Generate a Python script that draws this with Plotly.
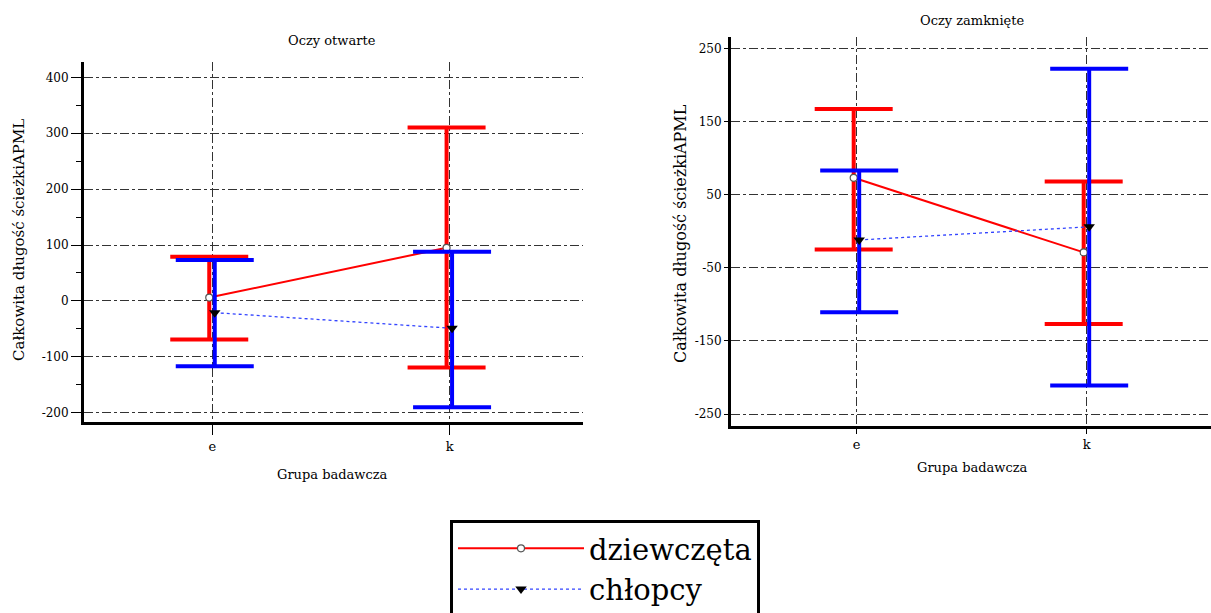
import numpy as np
import plotly.graph_objects as go

# ---------------- data ----------------
categories = ["e", "k"]
series_names = ["dziewczęta", "chłopcy"]

# Oczy otwarte (eyes open)
open_girls_mean = [6, 95]
open_girls_upper = [79, 310]
open_girls_lower = [-69, -119]
open_boys_mean = [-21, -49]
open_boys_upper = [73, 88]
open_boys_lower = [-117, -190]

# Oczy zamknięte (eyes closed)
closed_girls_mean = [73, -29]
closed_girls_upper = [167, 68]
closed_girls_lower = [-25, -127]
closed_boys_mean = [-12, 6]
closed_boys_upper = [83, 222]
closed_boys_lower = [-111, -211]

open_yticks = [-200, -100, 0, 100, 200, 300, 400]
closed_yticks = [-250, -150, -50, 50, 150, 250]

panel_titles = ["Oczy otwarte", "Oczy zamknięte"]
x_title = "Grupa badawcza"
y_title = "Całkowita długość ścieżkiAPML"

# ---------------- styling ----------------
W, H = 1211, 613
FONT = "DejaVu Serif"
RED = "#ff0000"
BLUE = "#0000ff"
GRID = "#333333"


def px_x(p):
    return p / W


def px_y(p):
    return 1 - p / H


fig = go.Figure()


def add_panel(xa, ya, gm, gu, gl, bm, bu, bl, unit_px, showlegend):
    base = np.arange(len(categories), dtype=float)
    red_off = -3.0 / unit_px
    blue_off = 2.5 / unit_px
    gm_a, gu_a, gl_a = map(np.array, (gm, gu, gl))
    bm_a, bu_a, bl_a = map(np.array, (bm, bu, bl))
    fig.add_trace(go.Scatter(
        x=base + red_off, y=gm_a, xaxis=xa, yaxis=ya,
        mode="lines+markers", name=series_names[0], legendgroup="g",
        showlegend=showlegend,
        line=dict(color=RED, width=2),
        marker=dict(symbol="circle", size=7, color="white",
                    line=dict(color="#555555", width=1.2)),
        error_y=dict(type="data", symmetric=False,
                     array=gu_a - gm_a, arrayminus=gm_a - gl_a,
                     color=RED, thickness=4, width=39),
    ))
    fig.add_trace(go.Scatter(
        x=base + blue_off, y=bm_a, xaxis=xa, yaxis=ya,
        mode="lines+markers", name=series_names[1], legendgroup="b",
        showlegend=showlegend,
        line=dict(color="#3344ff", width=1.3, dash="dot"),
        marker=dict(symbol="triangle-down", size=10, color="black"),
        error_y=dict(type="data", symmetric=False,
                     array=bu_a - bm_a, arrayminus=bm_a - bl_a,
                     color=BLUE, thickness=4, width=39),
    ))


add_panel("x", "y", open_girls_mean, open_girls_upper, open_girls_lower,
          open_boys_mean, open_boys_upper, open_boys_lower, 237.4, True)
add_panel("x2", "y2", closed_girls_mean, closed_girls_upper, closed_girls_lower,
          closed_boys_mean, closed_boys_upper, closed_boys_lower, 230.0, False)

common_x = dict(
    tickvals=list(range(len(categories))), ticktext=categories,
    showline=True, linecolor="black", linewidth=3,
    ticks="outside", ticklen=10, tickcolor="black", tickwidth=1,
    showgrid=True, gridcolor=GRID, gridwidth=1, griddash="dashdot",
    zeroline=False, tickfont=dict(family=FONT, size=13, color="black"),
)
common_y = dict(
    showline=True, linecolor="black", linewidth=3,
    ticks="outside", tickcolor="black", tickwidth=1,
    showgrid=True, gridcolor=GRID, gridwidth=1, griddash="dashdot",
    zeroline=False, tickfont=dict(family=FONT, size=12, color="black"),
)

fig.update_layout(
    width=W, height=H, autosize=False,
    margin=dict(l=0, r=0, t=0, b=0, autoexpand=False),
    paper_bgcolor="white", plot_bgcolor="white",
    font=dict(family=FONT, size=12, color="black"),
    xaxis=dict(domain=[px_x(84), px_x(583)], range=[-0.5404, 1.5622],
               anchor="y", **common_x),
    yaxis=dict(domain=[px_y(422), px_y(61.7)], range=[-216.6, 427.9],
               anchor="x", tickvals=open_yticks,
               ticktext=[str(v) for v in open_yticks], ticklen=10,
               minor=dict(dtick=50, tick0=0, ticks="outside", ticklen=5,
                          tickcolor="black", showgrid=False),
               **common_y),
    xaxis2=dict(domain=[px_x(731), 1.0], range=[-0.5465, 1.5405],
                anchor="y2", **{**common_x, "ticklen": 5}),
    yaxis2=dict(domain=[px_y(425.7), px_y(36.7)], range=[-266, 266],
                anchor="x2", tickvals=closed_yticks,
                ticktext=[str(v) for v in closed_yticks], ticklen=4,
                **common_y),
    showlegend=True,
    legend=dict(
        xref="container", yref="container",
        x=px_x(450), y=px_y(520), xanchor="left", yanchor="top",
        bordercolor="black", borderwidth=3, bgcolor="white",
        font=dict(family=FONT, size=29, color="black"),
        itemwidth=126, tracegroupgap=0,
        entrywidth=190, entrywidthmode="pixels",
    ),
)

annotations = [
    dict(text=panel_titles[0], x=px_x(332), y=px_y(40)),
    dict(text=panel_titles[1], x=px_x(972), y=px_y(20)),
    dict(text=x_title, x=px_x(332), y=px_y(474)),
    dict(text=x_title, x=px_x(972), y=px_y(468)),
    dict(text=y_title, x=px_x(19), y=px_y(240), textangle=-90,
         font=dict(family=FONT, size=15, color="black")),
    dict(text=y_title, x=px_x(680), y=px_y(234), textangle=-90,
         font=dict(family=FONT, size=16, color="black")),
]
for a in annotations:
    a.setdefault("font", dict(family=FONT, size=13, color="black"))
    fig.add_annotation(xref="paper", yref="paper", xanchor="center",
                       yanchor="middle", showarrow=False, **a)

fig.write_html("out.html")
